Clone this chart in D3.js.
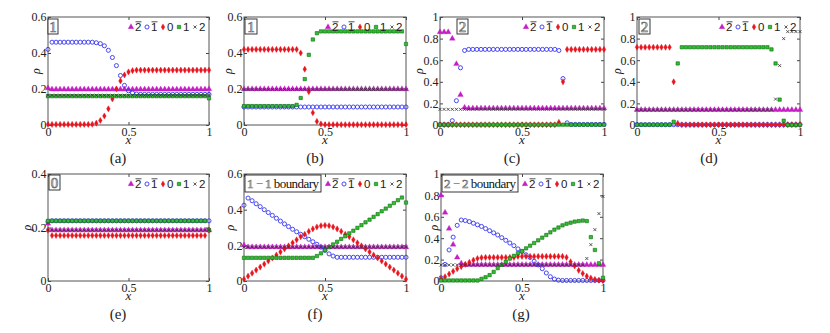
<!DOCTYPE html>
<html><head><meta charset="utf-8">
<script src="https://cdn.jsdelivr.net/npm/d3@7"></script>
<style>body{margin:0;background:#fff}svg{display:block}</style>
</head><body><svg id="c" width="830" height="333"></svg>
<script>
// ---------- data ----------
const xGrid = [0,0.025,0.05,0.075,0.1,0.125,0.15,0.175,0.2,0.225,0.25,0.275,0.3,0.325,0.35,0.375,0.4,0.425,0.45,0.475,0.5,0.525,0.55,0.575,0.6,0.625,0.65,0.675,0.7,0.725,0.75,0.775,0.8,0.825,0.85,0.875,0.9,0.925,0.95,0.975,1];
const xTicks = [0,0.5,1];
const yTicks06 = [0,0.2,0.4,0.6];
const yTicks1 = [0,0.2,0.4,0.6,0.8,1];
const yTicks04 = [0,0.2,0.4];
const seriesLabels = ["2","1","0","1","2"];
const seriesBar = [true,true,false,false,false];

// (a)
const a_m2 = [0.205,0.198,0.198,0.198,0.198,0.198,0.198,0.198,0.198,0.198,
0.198,0.198,0.198,0.198,0.198,0.198,0.198,0.198,0.198,0.198,
0.198,0.198,0.198,0.198,0.198,0.198,0.198,0.198,0.198,0.198,
0.198,0.198,0.198,0.198,0.198,0.198,0.198,0.198,0.198,0.198,0.2];
const a_m1 = [0.42,0.46,0.46,0.46,0.46,0.46,0.46,0.46,0.46,0.46,
0.46,0.46,0.457,0.452,0.44,0.415,0.375,0.33,0.275,0.22,
0.19,0.178,0.172,0.17,0.17,0.17,0.17,0.17,0.17,0.17,
0.17,0.17,0.17,0.17,0.17,0.17,0.17,0.17,0.17,0.17,0.17];
const a_z0 = [0.003,0.003,0.003,0.003,0.003,0.003,0.003,0.003,0.003,0.003,
0.003,0.004,0.01,0.025,0.05,0.09,0.145,0.2,0.245,0.278,
0.295,0.302,0.305,0.305,0.305,0.305,0.305,0.305,0.305,0.305,
0.305,0.305,0.305,0.305,0.305,0.305,0.305,0.305,0.305,0.305,0.305];
const a_p1 = [0.16,0.16,0.16,0.16,0.16,0.16,0.16,0.16,0.16,0.16,
0.16,0.16,0.16,0.16,0.16,0.16,0.16,0.16,0.16,0.16,
0.16,0.16,0.16,0.16,0.16,0.16,0.16,0.16,0.16,0.16,
0.16,0.16,0.16,0.16,0.16,0.16,0.16,0.16,0.16,0.16,0.148];
const a_p2 = [0.165,0.165,0.165,0.165,0.165,0.165,0.165,0.165,0.165,0.165,
0.165,0.165,0.165,0.165,0.165,0.165,0.165,0.165,0.165,0.165,
0.165,0.165,0.165,0.165,0.165,0.165,0.165,0.165,0.165,0.165,
0.165,0.165,0.165,0.165,0.165,0.165,0.165,0.165,0.165,0.165,0.165];

// (b)
const b_m2 = [0.2,0.2,0.2,0.2,0.2,0.2,0.2,0.2,0.2,0.2,
0.2,0.2,0.2,0.2,0.2,0.2,0.2,0.2,0.2,0.2,
0.2,0.2,0.2,0.2,0.2,0.2,0.2,0.2,0.2,0.2,
0.2,0.2,0.2,0.2,0.2,0.2,0.2,0.2,0.2,0.2,0.2];
const b_m1 = [0.1,0.1,0.1,0.1,0.1,0.1,0.1,0.1,0.1,0.1,
0.1,0.1,0.1,0.1,0.1,0.1,0.1,0.1,0.1,0.1,
0.1,0.1,0.1,0.1,0.1,0.1,0.1,0.1,0.1,0.1,
0.1,0.1,0.1,0.1,0.1,0.1,0.1,0.1,0.1,0.1,0.1];
const b_z0 = [0.42,0.42,0.42,0.42,0.42,0.42,0.42,0.42,0.42,0.42,
0.42,0.42,0.42,0.42,0.4,0.31,0.185,0.068,0.02,0.006,
0.002,0.002,0.002,0.002,0.002,0.002,0.002,0.002,0.002,0.002,
0.002,0.002,0.002,0.002,0.002,0.002,0.002,0.002,0.002,0.002,0.002];
const b_p1 = [0.105,0.105,0.105,0.105,0.105,0.105,0.105,0.105,0.105,0.105,
0.105,0.105,0.105,0.112,0.15,0.255,0.39,0.475,0.51,0.52,
0.52,0.52,0.52,0.52,0.52,0.52,0.52,0.52,0.52,0.52,
0.52,0.52,0.52,0.52,0.52,0.52,0.52,0.52,0.52,0.52,0.45];
const b_p2 = [0.197,0.197,0.197,0.197,0.197,0.197,0.197,0.197,0.197,0.197,
0.197,0.197,0.197,0.197,0.197,0.197,0.197,0.197,0.197,0.197,
0.197,0.197,0.197,0.197,0.197,0.197,0.197,0.197,0.197,0.197,
0.197,0.197,0.197,0.197,0.197,0.197,0.197,0.197,0.197,0.197,0.197];

// (c)
const c_m2 = [0.86,0.86,0.86,0.8,0.565,0.28,0.162,0.155,0.155,0.155,
0.155,0.155,0.155,0.155,0.155,0.155,0.155,0.155,0.155,0.155,
0.155,0.155,0.155,0.155,0.155,0.155,0.155,0.155,0.155,0.155,
0.155,0.155,0.155,0.155,0.155,0.155,0.155,0.155,0.155,0.155,0.155];
const c_m1 = [0.003,0.003,0.003,0.04,0.225,0.53,0.69,0.7,0.7,0.7,
0.7,0.7,0.7,0.7,0.7,0.7,0.7,0.7,0.7,0.7,
0.7,0.7,0.7,0.7,0.7,0.7,0.7,0.7,0.7,0.69,
0.43,0.02,0.005,0.005,0.005,0.005,0.005,0.005,0.005,0.005,0.005];
const c_z0 = [0.002,0.002,0.002,0.002,0.002,0.002,0.002,0.002,0.002,0.002,
0.002,0.002,0.002,0.002,0.002,0.002,0.002,0.002,0.002,0.002,
0.002,0.002,0.002,0.002,0.002,0.002,0.002,0.002,0.002,0.025,
0.4,0.7,0.7,0.7,0.7,0.7,0.7,0.7,0.7,0.7,0.7];
const c_p1 = [0.003,0.003,0.003,0.003,0.003,0.003,0.003,0.003,0.003,0.003,
0.003,0.003,0.003,0.003,0.003,0.003,0.003,0.003,0.003,0.003,
0.003,0.003,0.003,0.003,0.003,0.003,0.003,0.003,0.003,0.003,
0.003,0.003,0.003,0.003,0.003,0.003,0.003,0.003,0.003,0.003,0.003];
const c_p2 = [0.145,0.145,0.145,0.145,0.145,0.145,0.145,0.145,0.145,0.145,
0.145,0.145,0.145,0.145,0.145,0.145,0.145,0.145,0.145,0.145,
0.145,0.145,0.145,0.145,0.145,0.145,0.145,0.145,0.145,0.145,
0.145,0.145,0.145,0.145,0.145,0.145,0.145,0.145,0.145,0.145,0.145];

// (d)
const d_m2 = [0.14,0.14,0.14,0.14,0.14,0.14,0.14,0.14,0.14,0.14,
0.14,0.14,0.14,0.14,0.14,0.14,0.14,0.14,0.14,0.14,
0.14,0.14,0.14,0.14,0.14,0.14,0.14,0.14,0.14,0.14,
0.14,0.14,0.14,0.14,0.14,0.14,0.14,0.14,0.14,0.14,0.14];
const d_m1 = [0.003,0.003,0.003,0.003,0.003,0.003,0.003,0.003,0.003,0.003,
0.003,0.003,0.003,0.003,0.003,0.003,0.003,0.003,0.003,0.003,
0.003,0.003,0.003,0.003,0.003,0.003,0.003,0.003,0.003,0.003,
0.003,0.003,0.003,0.003,0.003,0.003,0.003,0.003,0.003,0.003,0.003];
const d_z0 = [0.72,0.72,0.72,0.72,0.72,0.72,0.72,0.72,0.72,0.4,
0.015,0.002,0.002,0.002,0.002,0.002,0.002,0.002,0.002,0.002,
0.002,0.002,0.002,0.002,0.002,0.002,0.002,0.002,0.002,0.002,
0.002,0.002,0.002,0.002,0.002,0.002,0.002,0.004,0.004,0.004,0.004];
const d_p1 = [0.003,0.003,0.003,0.003,0.003,0.003,0.003,0.003,0.003,0.03,
0.57,0.72,0.72,0.72,0.72,0.72,0.72,0.72,0.72,0.72,
0.72,0.72,0.72,0.72,0.72,0.72,0.72,0.72,0.72,0.72,
0.72,0.72,0.72,0.7,0.57,0.235,0.04,0,0,0,0.003];
const d_p2 = [0.14,0.14,0.14,0.14,0.14,0.14,0.14,0.14,0.14,0.14,
0.14,0.14,0.14,0.14,0.14,0.14,0.14,0.14,0.14,0.14,
0.14,0.14,0.14,0.14,0.14,0.14,0.14,0.14,0.14,0.14,
0.14,0.14,0.14,0.14,0.24,0.55,0.8,0.865,0.865,0.865,0.865];

// (e)
const e_m2 = [0.215,0.19,0.19,0.19,0.19,0.19,0.19,0.19,0.19,0.19,
0.19,0.19,0.19,0.19,0.19,0.19,0.19,0.19,0.19,0.19,
0.19,0.19,0.19,0.19,0.19,0.19,0.19,0.19,0.19,0.19,
0.19,0.19,0.19,0.19,0.19,0.19,0.19,0.19,0.19,0.19,0.19];
const e_m1 = [0.222,0.225,0.225,0.225,0.225,0.225,0.225,0.225,0.225,0.225,
0.225,0.225,0.225,0.225,0.225,0.225,0.225,0.225,0.225,0.225,
0.225,0.225,0.225,0.225,0.225,0.225,0.225,0.225,0.225,0.225,
0.225,0.225,0.225,0.225,0.225,0.225,0.225,0.225,0.225,0.225,0.225];
const e_z0 = [0.19,0.17,0.17,0.17,0.17,0.17,0.17,0.17,0.17,0.17,
0.17,0.17,0.17,0.17,0.17,0.17,0.17,0.17,0.17,0.17,
0.17,0.17,0.17,0.17,0.17,0.17,0.17,0.17,0.17,0.17,
0.17,0.17,0.17,0.17,0.17,0.17,0.17,0.17,0.17,0.17,0.19];
const e_p1 = [0.225,0.225,0.225,0.225,0.225,0.225,0.225,0.225,0.225,0.225,
0.225,0.225,0.225,0.225,0.225,0.225,0.225,0.225,0.225,0.225,
0.225,0.225,0.225,0.225,0.225,0.225,0.225,0.225,0.225,0.225,
0.225,0.225,0.225,0.225,0.225,0.225,0.225,0.225,0.225,0.225,0.19];
const e_p2 = [0.19,0.19,0.19,0.19,0.19,0.19,0.19,0.19,0.19,0.19,
0.19,0.19,0.19,0.19,0.19,0.19,0.19,0.19,0.19,0.19,
0.19,0.19,0.19,0.19,0.19,0.19,0.19,0.19,0.19,0.19,
0.19,0.19,0.19,0.19,0.19,0.19,0.19,0.19,0.19,0.19,0.19];

// (f)
const f_m2 = [0.2,0.19,0.19,0.19,0.19,0.19,0.19,0.19,0.19,0.19,
0.19,0.19,0.19,0.19,0.19,0.19,0.19,0.19,0.19,0.19,
0.19,0.19,0.19,0.19,0.19,0.19,0.19,0.19,0.19,0.19,
0.19,0.19,0.19,0.19,0.19,0.19,0.19,0.19,0.19,0.19,0.19];
const f_m1 = [0.425,0.465,0.45,0.433,0.417,0.4,0.384,0.368,0.352,0.336,
0.32,0.305,0.29,0.276,0.262,0.248,0.234,0.22,0.206,0.19,
0.172,0.152,0.14,0.133,0.133,0.133,0.133,0.133,0.133,0.133,
0.133,0.133,0.133,0.133,0.133,0.133,0.133,0.133,0.133,0.133,0.133];
const f_z0 = [0.01,0.027,0.044,0.061,0.078,0.095,0.112,0.129,0.146,0.163,
0.18,0.197,0.214,0.231,0.248,0.262,0.278,0.292,0.303,0.31,
0.312,0.31,0.303,0.292,0.278,0.262,0.248,0.231,0.214,0.197,
0.18,0.163,0.146,0.129,0.112,0.095,0.078,0.061,0.044,0.027,0.01];
const f_p1 = [0.13,0.13,0.13,0.13,0.13,0.13,0.13,0.13,0.13,0.13,
0.13,0.13,0.13,0.13,0.13,0.13,0.13,0.13,0.14,0.155,
0.172,0.19,0.205,0.22,0.236,0.251,0.267,0.282,0.298,0.313,
0.329,0.344,0.36,0.375,0.391,0.406,0.422,0.437,0.453,0.468,0.44];
const f_p2 = [0.19,0.19,0.19,0.19,0.19,0.19,0.19,0.19,0.19,0.19,
0.19,0.19,0.19,0.19,0.19,0.19,0.19,0.19,0.19,0.19,
0.19,0.19,0.19,0.19,0.19,0.19,0.19,0.19,0.19,0.19,
0.19,0.19,0.19,0.19,0.19,0.19,0.19,0.19,0.19,0.19,0.19];

// (g)
const g_m2 = [0.8,0.64,0.49,0.34,0.22,0.165,0.152,0.152,0.152,0.152,
0.152,0.152,0.152,0.152,0.152,0.152,0.152,0.152,0.152,0.152,
0.152,0.152,0.152,0.152,0.152,0.152,0.152,0.152,0.152,0.152,
0.152,0.152,0.152,0.152,0.152,0.152,0.152,0.152,0.152,0.152,0.152];
const g_m1 = [0.03,0.155,0.29,0.41,0.52,0.57,0.565,0.555,0.54,0.525,
0.51,0.49,0.47,0.45,0.43,0.405,0.38,0.355,0.33,0.3,
0.275,0.245,0.22,0.185,0.15,0.115,0.075,0.04,0.018,0.008,
0.005,0.005,0.005,0.005,0.005,0.005,0.005,0.005,0.005,0.005,0.005];
const g_z0 = [0.02,0.04,0.065,0.09,0.115,0.135,0.155,0.175,0.195,0.21,
0.218,0.22,0.22,0.22,0.22,0.22,0.22,0.22,0.22,0.23,
0.23,0.23,0.23,0.23,0.23,0.23,0.23,0.23,0.23,0.23,
0.23,0.22,0.18,0.14,0.1,0.07,0.045,0.028,0.015,0.008,0.003];
const g_p1 = [0.005,0.005,0.005,0.005,0.005,0.005,0.005,0.005,0.005,0.005,
0.02,0.035,0.055,0.085,0.12,0.15,0.18,0.21,0.235,0.26,
0.28,0.305,0.33,0.355,0.38,0.405,0.43,0.455,0.48,0.5,
0.52,0.535,0.545,0.555,0.56,0.565,0.56,0.41,0.29,0.165,0.03];
const g_p2 = [0.15,0.15,0.15,0.15,0.15,0.15,0.15,0.15,0.15,0.15,
0.15,0.15,0.15,0.15,0.15,0.15,0.15,0.15,0.15,0.15,
0.15,0.15,0.15,0.15,0.15,0.15,0.15,0.15,0.15,0.15,
0.15,0.15,0.15,0.15,0.15,0.15,0.21,0.34,0.48,0.63,0.79];

// ---------- layout ----------
const panels = [
 {name:"(a)", L:48, R:209, T:17, B:125, ymax:0.6, yt:yTicks06, data:[a_m2,a_m1,a_z0,a_p1,a_p2], tag:{x0:48,x1:58,y0:19,y1:34,t:"1"}, lx:118, rho:-12.5},
 {name:"(b)", L:244, R:406, T:17, B:125, ymax:0.6, yt:yTicks06, data:[b_m2,b_m1,b_z0,b_p1,b_p2], tag:{x0:245,x1:257,y0:19,y1:34,t:"1"}, lx:315, rho:-16.5},
 {name:"(c)", L:440, R:604, T:17, B:125, ymax:1, yt:yTicks1, data:[c_m2,c_m1,c_z0,c_p1,c_p2], tag:{x0:457,x1:468,y0:19,y1:34,t:"2"}, lx:512, rho:-21},
 {name:"(d)", L:637, R:800, T:17, B:125, ymax:1, yt:yTicks1, data:[d_m2,d_m1,d_z0,d_p1,d_p2], tag:{x0:639,x1:650,y0:19,y1:34,t:"2"}, lx:709, rho:-20},
 {name:"(e)", L:48, R:209, T:174, B:281, ymax:0.4, yt:yTicks04, data:[e_m2,e_m1,e_z0,e_p1,e_p2], tag:{x0:49,x1:60,y0:175,y1:190,t:"0"}, lx:118, rho:-21.5},
 {name:"(f)", L:244, R:406, T:174, B:281, ymax:0.6, yt:yTicks06, data:[f_m2,f_m1,f_z0,f_p1,f_p2], tag:{x0:245,x1:321,y0:175,y1:192,t:"1", wide:true}, lx:315, rho:-14},
 {name:"(g)", L:441, R:603, T:174, B:281, ymax:1, yt:yTicks1, data:[g_m2,g_m1,g_z0,g_p1,g_p2], tag:{x0:442,x1:518,y0:175,y1:192,t:"2", wide:true}, lx:521, rho:-7}
];

const styles = [
 {path:d3.symbol().type(d3.symbolTriangle).size(14)(), fill:"#c41ec4", stroke:"#c41ec4", sw:0.3},
 {path:d3.symbol().type(d3.symbolCircle).size(13)(), fill:"none", stroke:"#3434f4", sw:0.9},
 {path:d3.symbol().type(d3.symbolDiamond).size(11)(), fill:"#e8141e", stroke:"#e8141e", sw:0.4},
 {path:d3.symbol().type(d3.symbolSquare).size(11)(), fill:"#2fbf2f", stroke:"#0e6a0e", sw:0.6},
 {path:"M-1.5,-1.5L1.5,1.5M-1.5,1.5L1.5,-1.5", fill:"none", stroke:"#333", sw:0.8}
];

const svg = d3.select("#c");
svg.append("rect").attr("width",830).attr("height",333).attr("fill","#fff");
const SERIF = "'Liberation Serif','Times New Roman',serif";
const SANS = "'Liberation Sans',Arial,sans-serif";

panels.forEach(p => {
  const x = d3.scaleLinear().domain([0,1]).range([p.L,p.R]);
  const y = d3.scaleLinear().domain([0,p.ymax]).range([p.B,p.T]);
  const g = svg.append("g");

  const fmt = d => String(d);
  const ax = [
    {a:d3.axisBottom(x).tickValues(xTicks).tickFormat(fmt).tickSizeInner(-3).tickSizeOuter(0).tickPadding(2), t:`translate(0,${p.B})`},
    {a:d3.axisTop(x).tickValues(xTicks).tickFormat("").tickSizeInner(-3).tickSizeOuter(0), t:`translate(0,${p.T})`},
    {a:d3.axisLeft(y).tickValues(p.yt).tickFormat(fmt).tickSizeInner(-3).tickSizeOuter(0).tickPadding(1.5), t:`translate(${p.L},0)`},
    {a:d3.axisRight(y).tickValues(p.yt).tickFormat("").tickSizeInner(-3).tickSizeOuter(0), t:`translate(${p.R},0)`}
  ];
  ax.forEach(o => {
    const ag = g.append("g").attr("transform",o.t).call(o.a);
    ag.select(".domain").remove();
    ag.selectAll("line").attr("stroke","#444");
    ag.selectAll("text").attr("font-family",SERIF).attr("font-size",12).attr("fill","#222");
  });
  g.append("rect").attr("x",p.L).attr("y",p.T).attr("width",p.R-p.L).attr("height",p.B-p.T)
    .attr("fill","none").attr("stroke","#555").attr("stroke-width",1);

  // tag box
  const tg = p.tag;
  g.append("rect").attr("x",tg.x0).attr("y",tg.y0).attr("width",tg.x1-tg.x0).attr("height",tg.y1-tg.y0)
    .attr("fill","#fff").attr("stroke","#222").attr("stroke-width",0.9);
  if (!tg.wide) {
    g.append("text").attr("x",(tg.x0+tg.x1)/2).attr("y",tg.y1-2.5).attr("text-anchor","middle")
      .attr("font-family",SERIF).attr("font-size",15).attr("fill","#e6e6e6").attr("stroke","#6a6a6a").attr("stroke-width",0.7)
      .text(tg.t);
  } else {
    const tt = g.append("text").attr("x",tg.x0+2).attr("y",tg.y1-4.5).attr("font-family",SERIF).attr("font-size",13)
      .attr("textLength",tg.x1-tg.x0-4).attr("lengthAdjust","spacing");
    tt.append("tspan").attr("fill","#e6e6e6").attr("stroke","#6a6a6a").attr("stroke-width",0.6).text(tg.t);
    tt.append("tspan").attr("fill","#666").text(" \u2212 ");
    tt.append("tspan").attr("fill","#e6e6e6").attr("stroke","#6a6a6a").attr("stroke-width",0.6).text(tg.t);
    tt.append("tspan").attr("fill","#111").text(" boundary");
  }

  // series
  p.data.forEach((arr, si) => {
    const st = styles[si];
    g.append("g").selectAll("path").data(arr).join("path")
      .attr("d", st.path)
      .attr("transform",(d,i)=>`translate(${x(xGrid[i])},${y(d)})`)
      .attr("fill",st.fill).attr("stroke",st.stroke).attr("stroke-width",st.sw);
  });

  // legend
  const ly = p.T + 10;
  seriesLabels.forEach((lab, i) => {
    const mx = p.R - 78 + 16*i;
    const st = styles[i];
    g.append("path").attr("d",st.path).attr("transform",`translate(${mx},${ly})`)
      .attr("fill",st.fill).attr("stroke",st.stroke).attr("stroke-width",st.sw);
    g.append("text").attr("x",mx+4).attr("y",ly+4).attr("font-family",SANS).attr("font-size",11.5)
      .attr("fill","#222").text(lab);
    if (seriesBar[i]) {
      g.append("line").attr("x1",mx+4.5).attr("x2",mx+10.5).attr("y1",ly-5.2).attr("y2",ly-5.2)
        .attr("stroke","#222").attr("stroke-width",0.8);
    }
  });

  // axis titles
  g.append("text").attr("x",(p.L+p.R)/2).attr("y",p.B+18.5).attr("text-anchor","middle")
    .attr("font-family",SERIF).attr("font-style","italic").attr("font-size",13).attr("fill","#222").text("x");
  const ry = (p.T+p.B)/2, rx = p.L + p.rho;
  g.append("text").attr("transform",`translate(${rx},${ry}) rotate(-90)`).attr("text-anchor","middle")
    .attr("dominant-baseline","central").attr("font-family",SERIF).attr("font-style","italic").attr("font-size",12)
    .attr("fill","#222").text("\u03c1");

  // panel label
  g.append("text").attr("x",p.lx).attr("y",p.B+38).attr("text-anchor","middle")
    .attr("font-family",SERIF).attr("font-size",15).attr("fill","#222").text(p.name);
});
</script>
</body></html>
